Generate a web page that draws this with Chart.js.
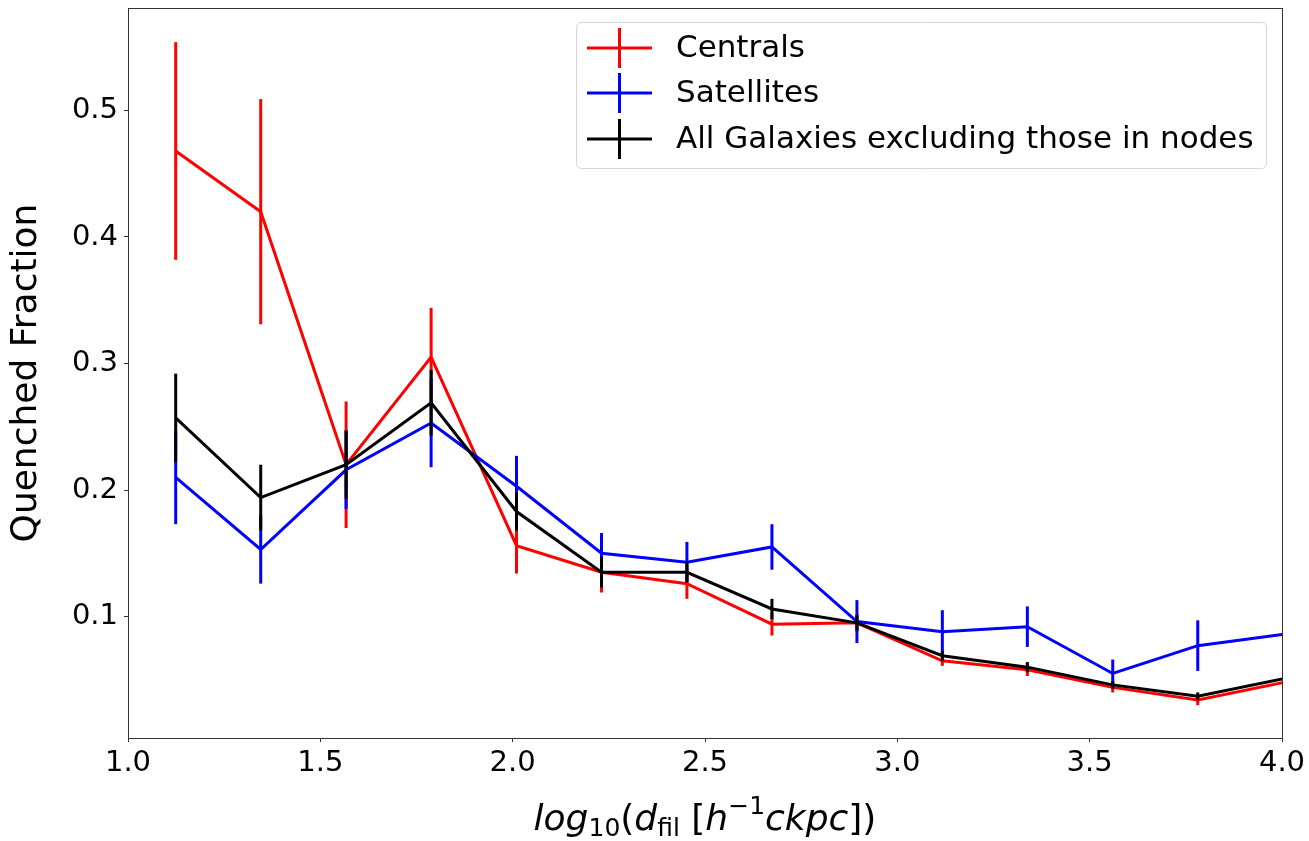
<!DOCTYPE html>
<html>
<head>
<meta charset="utf-8">
<script src="https://cdn.jsdelivr.net/npm/chart.js@4"></script>
<style>
  html, body { margin: 0; padding: 0; background: #fff; }
  #wrap { width: 1309px; height: 841px; }
</style>
</head>
<body>
<div id="wrap"><canvas id="qf" width="1309" height="841"></canvas></div>
<script>
// bin centres, log10(d_fil)
const logDist = [1.124, 1.345, 1.567, 1.788, 2.010, 2.231, 2.453, 2.674, 2.895, 3.117, 3.338, 3.560, 3.781, 4.006];

const centrals    = [0.468, 0.420, 0.220, 0.305, 0.156, 0.135, 0.126, 0.094, 0.095, 0.065, 0.058, 0.044, 0.034, 0.048];
const centralsErr = [0.086, 0.089, 0.050, 0.039, 0.022, 0.016, 0.012, 0.009, 0.007, 0.004, 0.005, 0.004, 0.004, 0.004];

const satellites    = [0.210, 0.153, 0.216, 0.253, 0.203, 0.150, 0.143, 0.155, 0.096, 0.088, 0.092, 0.055, 0.077, 0.086];
const satellitesErr = [0.037, 0.027, 0.031, 0.035, 0.024, 0.016, 0.016, 0.018, 0.017, 0.017, 0.016, 0.011, 0.020, 0.018];

const allGal    = [0.257, 0.194, 0.220, 0.269, 0.183, 0.135, 0.135, 0.106, 0.095, 0.069, 0.060, 0.046, 0.037, 0.051];
const allGalErr = [0.035, 0.026, 0.027, 0.026, 0.015, 0.012, 0.008, 0.008, 0.006, 0.004, 0.004, 0.003, 0.003, 0.003];

const xTicks = [1.0, 1.5, 2.0, 2.5, 3.0, 3.5, 4.0];
const yTicks = [0.1, 0.2, 0.3, 0.4, 0.5];

const FONT = "'DejaVu Sans', sans-serif";
Chart.defaults.font.family = FONT;
Chart.defaults.color = '#000';

function pts(ys) {
  return logDist.map((x, i) => ({ x: x, y: ys[i] }));
}

function series(label, ys, errs, color, order) {
  return {
    label: label,
    data: pts(ys),
    errorBars: errs,
    borderColor: color,
    backgroundColor: color,
    borderWidth: 3,
    pointRadius: 0,
    tension: 0,
    order: order
  };
}

// vertical error bars, drawn right after each dataset's line
const errorBarPlugin = {
  id: 'errorBars',
  afterDatasetDraw(chart, args) {
    const ds = chart.data.datasets[args.index];
    if (!ds.errorBars) return;
    const ctx = chart.ctx, a = chart.chartArea;
    const xs = chart.scales.x, ys = chart.scales.y;
    ctx.save();
    ctx.beginPath();
    ctx.rect(a.left, a.top, a.right - a.left, a.bottom - a.top);
    ctx.clip();
    ctx.strokeStyle = ds.borderColor;
    ctx.lineWidth = 3;
    ctx.lineCap = 'butt';
    ds.data.forEach((p, i) => {
      const e = ds.errorBars[i];
      const x = xs.getPixelForValue(p.x);
      ctx.beginPath();
      ctx.moveTo(x, ys.getPixelForValue(p.y - e));
      ctx.lineTo(x, ys.getPixelForValue(p.y + e));
      ctx.stroke();
    });
    ctx.restore();
  }
};

// frame, axis titles and legend
const decorPlugin = {
  id: 'decor',
  afterDraw(chart) {
    const ctx = chart.ctx, a = chart.chartArea;
    ctx.save();
    ctx.strokeStyle = '#333';
    ctx.lineWidth = 1;
    ctx.strokeRect(Math.round(a.left) + 0.5, Math.round(a.top) + 0.5,
                   Math.round(a.right - a.left), Math.round(a.bottom - a.top));

    // y title
    ctx.fillStyle = '#000';
    ctx.font = '36px ' + FONT;
    ctx.textAlign = 'center';
    ctx.textBaseline = 'middle';
    ctx.translate(27, (a.top + a.bottom) / 2);
    ctx.rotate(-Math.PI / 2);
    ctx.fillText('Quenched Fraction', 0, 0);
    ctx.restore();

    // x title, mathtext style
    const big = 36, small = 25;
    const segs = [
      { t: 'log', f: 'italic ' + big + 'px ' + FONT, dy: 0 },
      { t: '10', f: small + 'px ' + FONT, dy: 6 },
      { t: '(', f: big + 'px ' + FONT, dy: 0 },
      { t: 'd', f: 'italic ' + big + 'px ' + FONT, dy: 0 },
      { t: 'fil', f: small + 'px ' + FONT, dy: 6 },
      { t: ' [', f: big + 'px ' + FONT, dy: 0 },
      { t: 'h', f: 'italic ' + big + 'px ' + FONT, dy: 0 },
      { t: '\u22121', f: small + 'px ' + FONT, dy: -16 },
      { t: 'ckpc', f: 'italic ' + big + 'px ' + FONT, dy: 0 },
      { t: '])', f: big + 'px ' + FONT, dy: 0 }
    ];
    ctx.save();
    ctx.fillStyle = '#000';
    ctx.textBaseline = 'alphabetic';
    ctx.textAlign = 'left';
    let total = 0;
    segs.forEach(s => { ctx.font = s.f; s.w = ctx.measureText(s.t).width; total += s.w; });
    let x = (a.left + a.right) / 2 - total / 2;
    const base = 830;
    segs.forEach(s => { ctx.font = s.f; ctx.fillText(s.t, x, base + s.dy); x += s.w; });
    ctx.restore();

    // legend
    const lx = 576.5, ly = 22.5, lw = 690, lh = 146;
    ctx.save();
    ctx.beginPath();
    ctx.roundRect(lx, ly, lw, lh, 5);
    ctx.fillStyle = 'rgba(255,255,255,0.8)';
    ctx.fill();
    ctx.strokeStyle = '#d6d6d6';
    ctx.lineWidth = 1;
    ctx.stroke();
    const rows = [48, 93, 139];
    ctx.font = '31px ' + FONT;
    ctx.textBaseline = 'middle';
    ctx.textAlign = 'left';
    chart.data.datasets.forEach((ds, i) => {
      const cy = rows[i];
      ctx.strokeStyle = ds.borderColor;
      ctx.lineWidth = 3;
      ctx.beginPath();
      ctx.moveTo(587, cy); ctx.lineTo(652, cy);
      ctx.moveTo(619.5, cy - 20); ctx.lineTo(619.5, cy + 20);
      ctx.stroke();
      ctx.fillStyle = '#000';
      ctx.fillText(ds.label, 676, cy + 1);
    });
    ctx.restore();
  }
};

new Chart(document.getElementById('qf'), {
  type: 'line',
  data: {
    datasets: [
      series('Centrals', centrals, centralsErr, '#ff0000', 3),
      series('Satellites', satellites, satellitesErr, '#0000ff', 2),
      series('All Galaxies excluding those in nodes', allGal, allGalErr, '#000000', 1)
    ]
  },
  options: {
    responsive: false,
    animation: false,
    devicePixelRatio: 1,
    layout: { padding: { left: 0, right: 27, top: 8, bottom: 0 } },
    plugins: { legend: { display: false }, tooltip: { enabled: false } },
    scales: {
      x: {
        type: 'linear',
        min: 1.0,
        max: 4.0,
        afterFit: s => { s.height = 103; s.paddingLeft = 0; s.paddingRight = 0; },
        afterBuildTicks: s => { s.ticks = xTicks.map(v => ({ value: v })); },
        grid: { drawOnChartArea: false, tickLength: 4, color: '#333' },
        border: { display: false },
        ticks: { font: { size: 29 }, padding: 4, maxRotation: 0, callback: v => v.toFixed(1) }
      },
      y: {
        type: 'linear',
        min: 0.004,
        max: 0.581,
        afterFit: s => { s.width = 128; s.paddingTop = 0; s.paddingBottom = 0; },
        afterBuildTicks: s => { s.ticks = yTicks.map(v => ({ value: v })); },
        grid: { drawOnChartArea: false, tickLength: 4, color: '#333' },
        border: { display: false },
        ticks: { font: { size: 29 }, padding: 6, callback: v => v.toFixed(1) }
      }
    }
  },
  plugins: [errorBarPlugin, decorPlugin]
});
</script>
</body>
</html>
